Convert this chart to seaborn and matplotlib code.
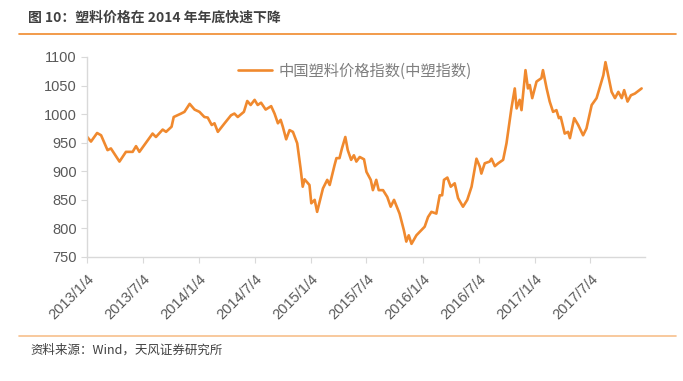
import pandas as pd
import seaborn as sns
import matplotlib.pyplot as plt

# values
dates = [
    '2013-01-04', '2013-01-16', '2013-02-05', '2013-02-18', '2013-03-11', '2013-03-22',
    '2013-04-19', '2013-05-10', '2013-06-01', '2013-06-12', '2013-06-23', '2013-08-05',
    '2013-08-16', '2013-09-07', '2013-09-18', '2013-10-06', '2013-10-13', '2013-11-06',
    '2013-11-17', '2013-12-04', '2013-12-20', '2014-01-05', '2014-01-21', '2014-02-01',
    '2014-02-14', '2014-02-23', '2014-03-06', '2014-03-28', '2014-04-18', '2014-04-29',
    '2014-05-10', '2014-05-30', '2014-06-10', '2014-06-21', '2014-07-04', '2014-07-14',
    '2014-07-25', '2014-08-09', '2014-08-27', '2014-09-07', '2014-09-18', '2014-09-27',
    '2014-10-04', '2014-10-15', '2014-10-26', '2014-11-06', '2014-11-20', '2014-12-01',
    '2014-12-08', '2014-12-14', '2014-12-25', '2014-12-30', '2015-01-05', '2015-01-16',
    '2015-01-24', '2015-02-12', '2015-02-26', '2015-03-06', '2015-03-22', '2015-03-28',
    '2015-04-07', '2015-04-15', '2015-04-26', '2015-05-04', '2015-05-15', '2015-05-24',
    '2015-06-01', '2015-06-12', '2015-06-26', '2015-07-04', '2015-07-18', '2015-07-25',
    '2015-08-05', '2015-08-13', '2015-08-27', '2015-09-10', '2015-09-21', '2015-10-02',
    '2015-10-20', '2015-11-03', '2015-11-11', '2015-11-19', '2015-11-28', '2015-12-14',
    '2015-12-30', '2016-01-10', '2016-01-21', '2016-02-01', '2016-02-17', '2016-02-28',
    '2016-03-07', '2016-03-13', '2016-03-24', '2016-04-04', '2016-04-17', '2016-04-28',
    '2016-05-14', '2016-05-28', '2016-06-11', '2016-06-27', '2016-07-08', '2016-07-13',
    '2016-07-24', '2016-08-09', '2016-08-15', '2016-08-26', '2016-09-06', '2016-09-22',
    '2016-10-03', '2016-10-19', '2016-10-30', '2016-11-05', '2016-11-15', '2016-11-21',
    '2016-12-04', '2016-12-12', '2016-12-18', '2016-12-26', '2017-01-09', '2017-01-25',
    '2017-01-30', '2017-02-11', '2017-02-21', '2017-03-04', '2017-03-15', '2017-03-23',
    '2017-03-29', '2017-04-11', '2017-04-22', '2017-04-28', '2017-05-12', '2017-05-25',
    '2017-06-10', '2017-06-21', '2017-07-08', '2017-07-24', '2017-08-04', '2017-08-15',
    '2017-08-22', '2017-08-31', '2017-09-11', '2017-09-22', '2017-10-03', '2017-10-14',
    '2017-10-22', '2017-11-02', '2017-11-13', '2017-11-26', '2017-12-18',
]
index_values = [
    960, 952, 967, 963, 937, 940,
    917, 934, 934, 944, 934, 966,
    960, 973, 969, 978, 995, 1001,
    1004, 1018, 1008, 1004, 995, 994,
    981, 984, 969, 984, 998, 1001,
    995, 1004, 1023, 1016, 1025, 1016,
    1020, 1008, 1014, 1001, 984, 990,
    978, 956, 972, 969, 949, 905,
    873, 886, 879, 876, 844, 850,
    829, 870, 885, 876, 911, 923,
    923, 940, 960, 937, 920, 928,
    917, 925, 921, 899, 885, 867,
    885, 867, 867, 855, 838, 850,
    826, 797, 777, 788, 773, 788,
    797, 803, 820, 829, 826, 858,
    858, 885, 889, 873, 879, 853,
    838, 850, 873, 922, 908, 896,
    914, 917, 922, 909, 914, 920,
    949, 1010, 1045, 1010, 1025, 1007,
    1077, 1045, 1051, 1028, 1057, 1063,
    1077, 1045, 1022, 1004, 1007, 993,
    995, 966, 969, 958, 993, 981,
    963, 975, 1016, 1028, 1048, 1068,
    1091, 1068, 1039, 1028, 1039, 1028,
    1042, 1022, 1033, 1036, 1045,
]
tick_labels = ['2013/1/4', '2013/7/4', '2014/1/4', '2014/7/4', '2015/1/4',
               '2015/7/4', '2016/1/4', '2016/7/4', '2017/1/4', '2017/7/4']
series_name = '中国塑料价格指数(中塑指数)'

df = pd.DataFrame({'date': pd.to_datetime(dates), 'value': index_values})

sns.set_style('white')
plt.rcParams['font.family'] = ['Liberation Sans', 'Noto Sans CJK SC', 'DejaVu Sans']

fig = plt.figure(figsize=(6.83, 3.81), dpi=100)
ax = fig.add_axes([87 / 683, 124 / 381, 558 / 683, 200 / 381])

orange = '#F0892E'
sns.lineplot(data=df, x='date', y='value', ax=ax, color=orange, linewidth=1.9,
             label=series_name)

ax.set_xlim(pd.Timestamp('2013-01-03'), pd.Timestamp('2017-12-29'))
ax.set_ylim(750, 1100)
ax.set_yticks(range(750, 1101, 50))
ax.set_xticks([pd.Timestamp(t.replace('/', '-')) for t in tick_labels])
ax.set_xticklabels(tick_labels, rotation=45, ha='right', rotation_mode='anchor')
ax.set_xlabel('')
ax.set_ylabel('')

grey = '#595959'
for side in ['top', 'right']:
    ax.spines[side].set_visible(False)
for side in ['left', 'bottom']:
    ax.spines[side].set_color('#D9D9D9')
    ax.spines[side].set_linewidth(1)
ax.tick_params(axis='both', colors='#D9D9D9', labelcolor=grey, labelsize=10.5,
               length=4, direction='out', left=True, bottom=True)
ax.tick_params(axis='x', pad=7)

leg = ax.legend(loc='upper center', bbox_to_anchor=(0.48, 1.04), frameon=False,
                handlelength=2.2, handletextpad=0.4,
                prop={'family': ['Noto Sans CJK SC'], 'size': 11})
for t in leg.get_texts():
    t.set_color('#7F7F7F')

# header and footer
fig.text(28 / 683, 1 - 18 / 381, '图 10：塑料价格在 2014 年年底快速下降', fontsize=10,
         fontweight='bold', color='#404040', va='center', ha='left',
         family=['Noto Sans CJK SC'])
fig.add_artist(plt.Line2D([19 / 683, 676 / 683], [1 - 34 / 381, 1 - 34 / 381],
                          color='#F08A2C', linewidth=1.2))
fig.add_artist(plt.Line2D([19 / 683, 676 / 683], [1 - 336 / 381, 1 - 336 / 381],
                          color='#F7C08C', linewidth=1.2))
fig.text(30 / 683, 1 - 350 / 381, '资料来源：Wind，天风证券研究所', fontsize=9,
         color='#404040', va='center', ha='left', family=['Noto Sans CJK SC'])

plt.savefig('out.png', dpi=100)
